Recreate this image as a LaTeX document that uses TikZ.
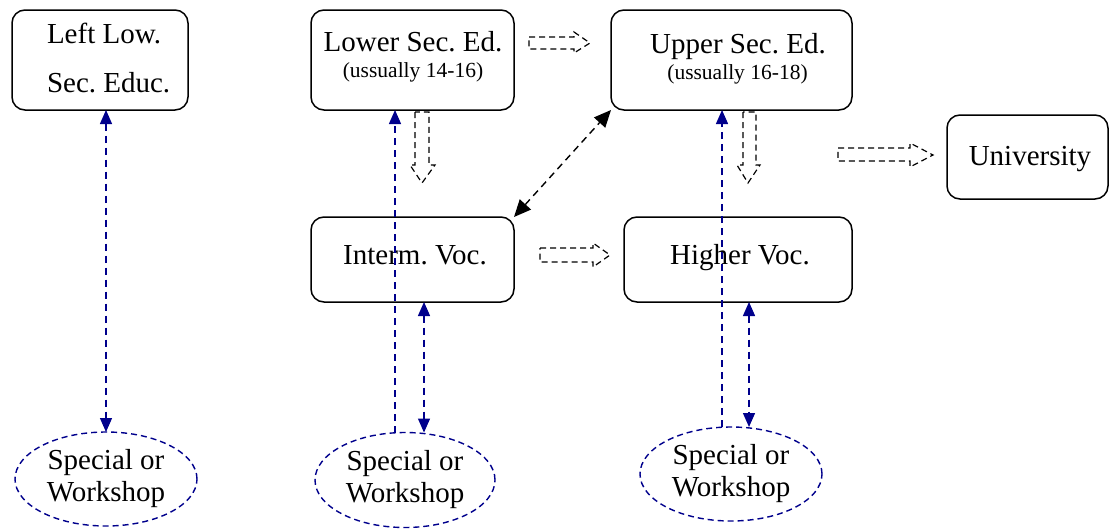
\documentclass[tikz,border=0pt]{standalone}
\usepackage{fontspec}
\setmainfont{Liberation Serif}
\frenchspacing
\usetikzlibrary{shapes.geometric,arrows.meta,calc}
\definecolor{navyb}{RGB}{0,0,140}
\tikzset{
  box/.style={draw, line width=1.5pt, rounded corners=13pt, inner sep=0pt, outer sep=0pt},
  oval/.style={ellipse, draw=navyb, line width=1.4pt, dash pattern=on 6pt off 4pt, inner sep=0pt, outer sep=0pt, align=center, font=\fontsize{29}{32}\selectfont},
  bigtxt/.style={inner sep=0pt, outer sep=0pt, font=\fontsize{29}{32}\selectfont},
  smalltxt/.style={inner sep=0pt, outer sep=0pt, font=\fontsize{21.5}{24}\selectfont},
  bl/.style={draw=navyb, line width=1.4pt, dash pattern=on 7pt off 5pt, -{Triangle[width=12pt,length=14pt]}},
  blb/.style={bl, {Triangle[width=12pt,length=14pt]}-{Triangle[width=12pt,length=14pt]}},
  diag/.style={draw=black, line width=1.4pt, dash pattern=on 7pt off 5pt, {Triangle[width=15pt,length=17pt]}-{Triangle[width=15pt,length=17pt]}},
  blk/.style={draw=black, line width=1.2pt, dash pattern=on 6pt off 4pt, line join=miter}
}
\begin{document}
\begin{tikzpicture}[x=1pt,y=-1pt]
\useasboundingbox (0,0) rectangle (1109,530);
% boxes
\node[box, minimum width=176pt, minimum height=100pt] (left) at (100,60) {};
\node[box, minimum width=203pt, minimum height=100pt] (lower) at (412.5,60) {};
\node[box, minimum width=241pt, minimum height=100pt] (upper) at (731.5,60) {};
\node[box, minimum width=161pt, minimum height=84pt] (univ) at (1027.5,157) {};
\node[box, minimum width=203pt, minimum height=85pt] (interm) at (412.5,259.5) {};
\node[box, minimum width=228pt, minimum height=85pt] (higher) at (738,259.5) {};
% texts
\node[bigtxt, anchor=base west] (tl1) at (47,43) {Left Low.};
\node[bigtxt, anchor=base west] (tl2) at (47,92) {Sec. Educ.};
\node[bigtxt, anchor=base] (tlo1) at (413,51) {Lower Sec. Ed.};
\node[smalltxt, anchor=base] (tlo2) at (413,77) {(ussually 14-16)};
\node[bigtxt, anchor=base] (tup1) at (738,53) {Upper Sec. Ed.};
\node[smalltxt, anchor=base] (tup2) at (737.5,79) {(ussually 16-18)};
\node[bigtxt, anchor=base] (tun) at (1030,165) {University};
\node[bigtxt, anchor=base] (tin) at (415,264) {Interm. Voc.};
\node[bigtxt, anchor=base] (thi) at (740,264) {Higher Voc.};
% ellipses
\node[oval, minimum width=182pt, minimum height=94pt] (eL) at (106,479) {Special or\\Workshop};
\node[oval, minimum width=180pt, minimum height=95pt] (eM) at (405,480) {Special or\\Workshop};
\node[oval, minimum width=182pt, minimum height=94pt] (eR) at (731,474) {Special or\\Workshop};
% blue connectors
\draw[blb] (left.south -| eL.north) -- (eL.north);
\coordinate (mA) at ($(eM.north)+(-10,0)$);
\coordinate (mB) at ($(eM.north)+(19,0)$);
\coordinate (rA) at ($(eR.north)+(-9,0)$);
\coordinate (rB) at ($(eR.north)+(18,0)$);
\draw[bl] (mA) -- (mA |- lower.south);
\draw[blb] (interm.south -| mB) -- (mB);
\draw[bl] (rA) -- (rA |- upper.south);
\draw[blb] (higher.south -| rB) -- (rB);
% diagonal
\draw[diag] (interm.north east) -- (upper.south west);
% block arrows
\draw[blk] (529,37) -- (574,37) -- (574,32) -- (590,43) -- (574,53) -- (574,49) -- (529,49) -- cycle;
\draw[blk] (415,112) -- (415,165) -- (410,165) -- (422,183) -- (435,165) -- (429,165) -- (429,112) -- cycle;
\draw[blk] (540,248) -- (593,248) -- (593,243) -- (610,255) -- (593,267) -- (593,262) -- (540,262) -- cycle;
\draw[blk] (743,112) -- (743,165) -- (737,165) -- (748,183) -- (760,165) -- (756,165) -- (756,112) -- cycle;
\draw[blk] (838,148) -- (910,148) -- (910,143) -- (933,155) -- (910,167) -- (910,161) -- (838,161) -- cycle;
\end{tikzpicture}
\end{document}
